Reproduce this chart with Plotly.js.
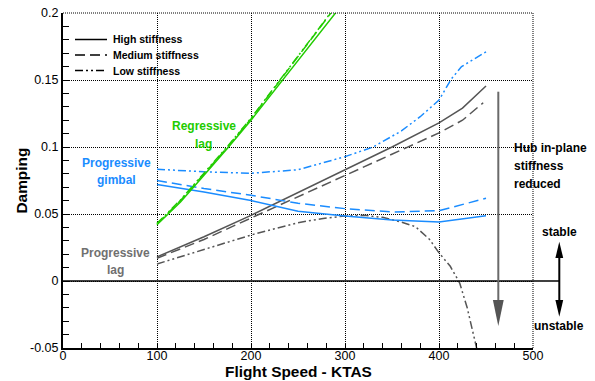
<!DOCTYPE html>
<html>
<head>
<meta charset="utf-8">
<script src="https://cdn.plot.ly/plotly-3.0.1.min.js"></script>
<style>html,body{margin:0;padding:0;background:#fff;}#chart{width:595px;height:381px;}</style>
</head>
<body>
<div id="chart"></div>
<script>
// ---- data ----
const greenHighX = [100, 125, 150, 175, 200, 225, 250, 275, 300];
const greenHighY = [0.042, 0.059, 0.079, 0.099, 0.120, 0.142, 0.164, 0.186, 0.209];
const greenMedX = [100, 125, 150, 175, 200, 225, 250, 275, 300];
const greenMedY = [0.0425, 0.060, 0.080, 0.100, 0.121, 0.144, 0.167, 0.190, 0.214];
const greenLowX = [100, 125, 150, 175, 200, 225, 250, 275, 300];
const greenLowY = [0.043, 0.0605, 0.0805, 0.1005, 0.1215, 0.1445, 0.1675, 0.191, 0.215];

const grayHighX = [100, 150, 200, 250, 300, 350, 400, 425, 450];
const grayHighY = [0.018, 0.033, 0.049, 0.066, 0.083, 0.100, 0.118, 0.129, 0.1455];
const grayMedX = [100, 150, 200, 250, 300, 350, 400, 425, 447];
const grayMedY = [0.017, 0.031, 0.047, 0.063, 0.079, 0.095, 0.1105, 0.120, 0.133];
const grayLowX = [100, 125, 150, 175, 200, 225, 250, 275, 300, 320, 340, 360, 375, 390, 400, 412, 422, 430, 440, 445];
const grayLowY = [0.0127, 0.018, 0.0235, 0.029, 0.0343, 0.039, 0.0435, 0.0465, 0.0485, 0.049, 0.0475, 0.044, 0.0405, 0.031, 0.021, 0.011, -0.0015, -0.020, -0.050, -0.065];

const blueHighX = [100, 150, 200, 250, 300, 350, 400, 450];
const blueHighY = [0.072, 0.0665, 0.060, 0.052, 0.0485, 0.0455, 0.044, 0.0487];
const blueMedX = [100, 150, 200, 250, 300, 350, 400, 450];
const blueMedY = [0.075, 0.069, 0.064, 0.058, 0.054, 0.0515, 0.0525, 0.0617];
const blueLowX = [100, 125, 150, 200, 250, 300, 330, 360, 380, 400, 413, 424, 450];
const blueLowY = [0.0834, 0.0825, 0.0815, 0.0804, 0.083, 0.0928, 0.100, 0.112, 0.1226, 0.135, 0.1507, 0.160, 0.171];

const xTickVals = [0, 100, 200, 300, 400, 500];
const xTickText = ["0", "100", "200", "300", "400", "500"];
const yTickVals = [-0.05, 0, 0.05, 0.1, 0.15, 0.2];
const yTickText = ["-0.05", "0", "0.05", "0.1", "0.15", "0.2"];
const legendNames = ["High stiffness", "Medium stiffness", "Low stiffness"];

// ---- styles ----
const GREEN = "#22cc00", BLUE = "#1a8cff", GRAY = "#555555";
const DASH_H = "solid", DASH_M = "10px,5px", DASH_L = "8px,3px,2px,3px,2px,3px";
const GRID_DASH = "1px,1px";
const FONT = "Liberation Sans, Arial, sans-serif";

function tr(x, y, color, dash) {
  return {x: x, y: y, type: "scatter", mode: "lines", showlegend: false,
          line: {color: color, width: 1.5, dash: dash}, hoverinfo: "skip"};
}
const traces = [
  tr(grayHighX, grayHighY, GRAY, DASH_H), tr(grayMedX, grayMedY, GRAY, DASH_M), tr(grayLowX, grayLowY, GRAY, DASH_L),
  tr(blueHighX, blueHighY, BLUE, DASH_H), tr(blueMedX, blueMedY, BLUE, DASH_M), tr(blueLowX, blueLowY, BLUE, DASH_L),
  tr(greenLowX, greenLowY, GREEN, DASH_L), tr(greenMedX, greenMedY, GREEN, DASH_M), tr(greenHighX, greenHighY, GREEN, DASH_H)
];

// pixel -> paper helpers (plot area: x 63..533, y 13..348)
const L = 63, R = 533, T = 13, B = 348;
const px = v => (v - L) / (R - L);
const py = v => (B - v) / (B - T);

const shapes = [];
const annotations = [];

// zero line extended past the plot
shapes.push({type: "line", xref: "paper", yref: "y", x0: 0, x1: px(559.5), y0: 0, y1: 0,
             line: {color: "#000", width: 1.6}, layer: "above"});
// top and right dotted borders
shapes.push({type: "line", xref: "paper", yref: "paper", x0: 0, x1: 1, y0: 1, y1: 1, line: {color: "#000", width: 1, dash: GRID_DASH}});
shapes.push({type: "line", xref: "paper", yref: "paper", x0: 1, x1: 1, y0: 0, y1: 1, line: {color: "#000", width: 1, dash: GRID_DASH}});

// legend
const legDash = [DASH_H, DASH_M, DASH_L];
const legY = [39.5, 55, 70.5];
for (let i = 0; i < 3; i++) {
  shapes.push({type: "line", xref: "paper", yref: "paper", x0: px(75), x1: px(107), y0: py(legY[i]), y1: py(legY[i]),
               line: {color: "#000", width: 1.5, dash: legDash[i]}});
  annotations.push({xref: "paper", yref: "paper", x: px(111), y: py(legY[i]), xanchor: "left", yanchor: "middle",
                    text: "<b>" + legendNames[i] + "</b>", showarrow: false, font: {family: FONT, size: 10.5, color: "#000"}});
}

function label(txt, xp, yp, color, size, anchor) {
  annotations.push({xref: "paper", yref: "paper", x: px(xp), y: py(yp), xanchor: anchor || "center", yanchor: "middle",
                    text: "<b>" + txt + "</b>", showarrow: false, font: {family: FONT, size: size, color: color}});
}
label("Regressive", 203.5, 126, GREEN, 12);
label("lag", 203.5, 144, GREEN, 12);
label("Progressive", 116.7, 163, BLUE, 12);
label("gimbal", 116.7, 180, BLUE, 12);
label("Progressive", 115.7, 253, "#707070", 12);
label("lag", 115.7, 269.5, "#707070", 12);
label("Hub in-plane", 512, 148, "#000", 12, "left");
label("stiffness", 512, 166, "#000", 12, "left");
label("reduced", 512, 184, "#000", 12, "left");
label("stable", 559.3, 231.7, "#000", 12);
label("unstable", 559.3, 326, "#000", 12);

// hub stiffness arrow (gray)
const HX = 498.3;
shapes.push({type: "line", xref: "paper", yref: "paper", x0: px(HX), x1: px(HX), y0: py(91.7), y1: py(302),
             line: {color: "#6a6a6a", width: 2}});
shapes.push({type: "path", xref: "paper", yref: "paper",
             path: `M ${px(HX - 5.4)} ${py(300)} L ${px(HX + 5.4)} ${py(300)} L ${px(HX)} ${py(326)} Z`,
             fillcolor: "#555555", line: {width: 0}});
// stable / unstable double arrow
const SX = 559.3;
shapes.push({type: "line", xref: "paper", yref: "paper", x0: px(SX), x1: px(SX), y0: py(256), y1: py(302),
             line: {color: "#000", width: 2}});
shapes.push({type: "path", xref: "paper", yref: "paper",
             path: `M ${px(SX - 3.9)} ${py(258)} L ${px(SX + 3.9)} ${py(258)} L ${px(SX)} ${py(241.7)} Z`,
             fillcolor: "#000", line: {width: 0}});
shapes.push({type: "path", xref: "paper", yref: "paper",
             path: `M ${px(SX - 3.9)} ${py(300)} L ${px(SX + 3.9)} ${py(300)} L ${px(SX)} ${py(316.7)} Z`,
             fillcolor: "#000", line: {width: 0}});

// axis titles
annotations.push({xref: "paper", yref: "paper", x: 0.5, y: py(371.5), xanchor: "center", yanchor: "middle",
                  text: "<b>Flight Speed - KTAS</b>", showarrow: false, borderpad: 0,
                  font: {family: FONT, size: 15.4, color: "#000"}});
annotations.push({xref: "paper", yref: "paper", x: px(21), y: 0.5, xanchor: "center", yanchor: "middle", textangle: -90,
                  text: "<b>Damping</b>", showarrow: false, font: {family: FONT, size: 15.4, color: "#000"}});

const layout = {
  width: 595, height: 381,
  margin: {l: L, r: 595 - R, t: T, b: 381 - B, pad: 0},
  paper_bgcolor: "#fff", plot_bgcolor: "#fff",
  showlegend: false,
  font: {family: FONT, size: 13, color: "#000"},
  xaxis: {range: [0, 500], tickvals: xTickVals, ticktext: xTickText, ticks: "inside", ticklen: 5, tickwidth: 1,
          tickcolor: "#000", showline: true, linecolor: "#000", linewidth: 2, zeroline: false,
          showgrid: true, gridcolor: "#000", gridwidth: 1, griddash: GRID_DASH, ticklabelstandoff: -5,
          minor: {dtick: 20, tick0: 0, ticks: "inside", ticklen: 5, tickcolor: "#000", showgrid: false},
          tickfont: {family: FONT, size: 12.5, color: "#000"}, fixedrange: true},
  yaxis: {range: [-0.05, 0.2], tickvals: yTickVals, ticktext: yTickText, ticks: "inside", ticklen: 6, tickwidth: 1,
          tickcolor: "#000", showline: true, linecolor: "#000", linewidth: 2, zeroline: false,
          showgrid: true, gridcolor: "#000", gridwidth: 1, griddash: GRID_DASH,
          minor: {dtick: 0.01, tick0: 0, ticks: "inside", ticklen: 6, tickcolor: "#000", showgrid: false},
          tickfont: {family: FONT, size: 12.5, color: "#000"}, fixedrange: true},
  shapes: shapes,
  annotations: annotations
};

Plotly.newPlot("chart", traces, layout, {staticPlot: true, displayModeBar: false});
</script>
</body>
</html>
